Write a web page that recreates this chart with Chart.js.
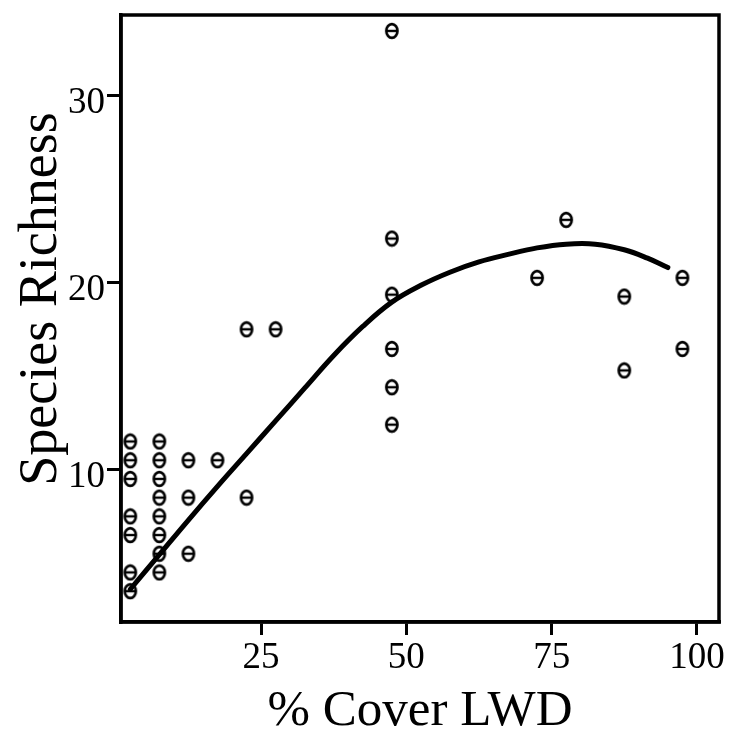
<!DOCTYPE html>
<html>
<head>
<meta charset="utf-8">
<script src="https://cdn.jsdelivr.net/npm/chart.js@4/dist/chart.umd.min.js"></script>
<style>
  html, body { margin: 0; padding: 0; background: #fff; }
  #wrap { width: 733px; height: 745px; }
</style>
</head>
<body>
<div id="wrap"><canvas id="c" width="733" height="745"></canvas></div>
<script>
// ---- data ----
const coverLWD = [
  2.5, 2.5, 2.5, 2.5, 2.5, 2.5, 2.5,
  7.5, 7.5, 7.5, 7.5, 7.5, 7.5, 7.5, 7.5,
  12.5, 12.5, 12.5,
  17.5,
  22.5, 22.5,
  27.5,
  47.5, 47.5, 47.5, 47.5, 47.5, 47.5,
  72.5,
  77.5,
  87.5, 87.5,
  97.5, 97.5
];
const speciesRichness = [
  11.5, 10.5, 9.5, 7.5, 6.5, 4.5, 3.5,
  11.5, 10.5, 9.5, 8.5, 7.5, 6.5, 5.5, 4.5,
  10.5, 8.5, 5.5,
  10.5,
  17.5, 8.5,
  17.5,
  33.45, 22.35, 19.35, 16.45, 14.4, 12.4,
  20.25,
  23.35,
  19.25, 15.3,
  20.25, 16.45
];
const fitX = [2.5, 7.5, 12.5, 17.5, 22.5, 27.5, 32.5, 37.5, 42.5, 47.5, 52.5, 57.5, 62.5, 67.5, 72.5, 77.5, 82.5, 87.5, 91.5, 95];
const fitY = [3.6, 5.45, 7.3, 9.1, 10.85, 12.6, 14.35, 16.1, 17.65, 18.95, 19.85, 20.55, 21.1, 21.5, 21.85, 22.05, 22.05, 21.75, 21.3, 20.8];
const xTickValues = [25, 50, 75, 100];
const yTickValues = [10, 20, 30];
const xTitle = '% Cover LWD';
const yTitle = 'Species Richness';

// ---- marker: theta-like glyph ----
function makeTheta() {
  const c = document.createElement('canvas');
  c.width = 16; c.height = 18;
  const g = c.getContext('2d');
  g.strokeStyle = '#000';
  g.lineWidth = 2.6;
  g.beginPath();
  g.ellipse(8, 9, 5.6, 6.9, 0, 0, Math.PI * 2);
  g.stroke();
  g.lineWidth = 2.4;
  g.beginPath();
  g.moveTo(2.5, 9); g.lineTo(13.5, 9);
  g.stroke();
  return c;
}
const theta = makeTheta();

const points = coverLWD.map((x, i) => ({ x: x, y: speciesRichness[i] }));
const fit = fitX.map((x, i) => ({ x: x, y: fitY[i] }));

const serif = '"Liberation Serif", "Times New Roman", serif';

const boxPlugin = {
  id: 'box',
  afterDraw(chart) {
    const a = chart.chartArea, ctx = chart.ctx;
    ctx.save();
    ctx.strokeStyle = '#000';
    ctx.lineWidth = 3.5;
    ctx.strokeRect(a.left, a.top, a.right - a.left, a.bottom - a.top);
    // y-axis title (rotated), positioned as in the reference
    ctx.fillStyle = '#000';
    ctx.font = '54px ' + serif;
    ctx.textAlign = 'center';
    ctx.textBaseline = 'middle';
    ctx.translate(42, 299);
    ctx.rotate(-Math.PI / 2);
    ctx.fillText(yTitle, 0, 0);
    ctx.restore();
  }
};

new Chart(document.getElementById('c'), {
  type: 'scatter',
  data: {
    datasets: [
      {
        data: points,
        pointStyle: theta,
        pointRadius: 8,
        pointHoverRadius: 8,
        showLine: false
      },
      {
        type: 'line',
        data: fit,
        showLine: true,
        borderColor: '#000',
        borderWidth: 5,
        borderCapStyle: 'round',
        borderJoinStyle: 'round',
        pointRadius: 0,
        fill: false,
        tension: 0.4
      }
    ]
  },
  options: {
    responsive: false,
    animation: false,
    events: [],
    layout: { padding: { top: 15, right: 14, left: 0, bottom: 0 } },
    plugins: { legend: { display: false }, tooltip: { enabled: false } },
    scales: {
      x: {
        type: 'linear',
        min: 0.9,
        max: 103.8,
        afterBuildTicks(s) { s.ticks = xTickValues.map(v => ({ value: v })); },
        afterFit(s) { s.height = 123; s.paddingLeft = 0; s.paddingRight = 0; },
        grid: { display: true, drawOnChartArea: false, drawTicks: true, tickLength: 13, lineWidth: 3, color: '#000' },
        border: { display: true, width: 3.5, color: '#000' },
        ticks: { color: '#000', font: { family: serif, size: 37 }, padding: 1, maxRotation: 0 },
        title: { display: true, text: xTitle, color: '#000', font: { family: serif, size: 51 }, padding: { top: 0, bottom: 3 } }
      },
      y: {
        type: 'linear',
        min: 1.85,
        max: 34.3,
        afterBuildTicks(s) { s.ticks = yTickValues.map(v => ({ value: v })); },
        afterFit(s) { s.width = 121; s.paddingTop = 0; s.paddingBottom = 0; },
        grid: { display: true, drawOnChartArea: false, drawTicks: true, tickLength: 14, lineWidth: 3, color: '#000' },
        border: { display: true, width: 3.5, color: '#000' },
        ticks: { color: '#000', font: { family: serif, size: 37 }, padding: 2, labelOffset: 8 },
        title: { display: false }
      }
    }
  },
  plugins: [boxPlugin]
});
</script>
</body>
</html>
